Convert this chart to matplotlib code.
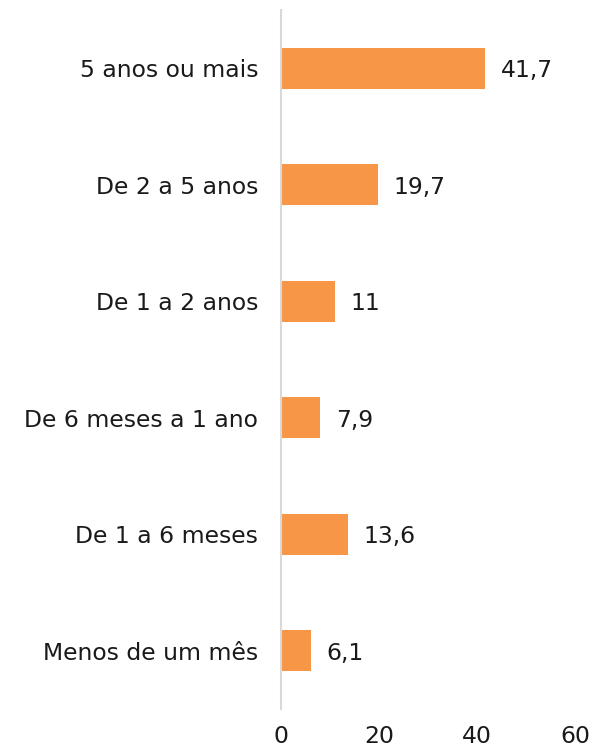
import matplotlib.pyplot as plt

categorias = ['5 anos ou mais', 'De 2 a 5 anos', 'De 1 a 2 anos',
              'De 6 meses a 1 ano', 'De 1 a 6 meses', 'Menos de um mês']
valores = [41.7, 19.7, 11, 7.9, 13.6, 6.1]
ticks_x = [0, 20, 40, 60]

plt.rcParams['font.family'] = ['DejaVu Sans']
fs = 16.9

fig = plt.figure(figsize=(5.94, 7.48), dpi=100)
ax = fig.add_axes([281 / 594, 1 - 709 / 748, 294 / 594, 699 / 748])

y = list(range(len(categorias)))
ax.barh(y, valores, height=0.35, color='#F79646')
ax.set_ylim(len(categorias) - 0.5, -0.5)
ax.set_xlim(0, 60)

for yi, v in zip(y, valores):
    txt = ('%g' % v).replace('.', ',')
    ax.annotate(txt, (v, yi), xytext=(11.5, 0), textcoords='offset points',
                va='center_baseline', ha='left', fontsize=fs, color='#1a1a1a')

ax.set_yticks(y)
ax.set_yticklabels(categorias, fontsize=fs, color='#1a1a1a')
ax.set_xticks(ticks_x)
ax.set_xticklabels([str(t) for t in ticks_x], fontsize=fs, color='#1a1a1a')
ax.tick_params(axis='both', length=0)
ax.tick_params(axis='y', pad=16.5)
ax.tick_params(axis='x', pad=11.5)

for s in ['top', 'right', 'bottom']:
    ax.spines[s].set_visible(False)
ax.spines['left'].set_color('#d9d9d9')
ax.spines['left'].set_linewidth(1.5)

fig.savefig('out.png', dpi=100)
